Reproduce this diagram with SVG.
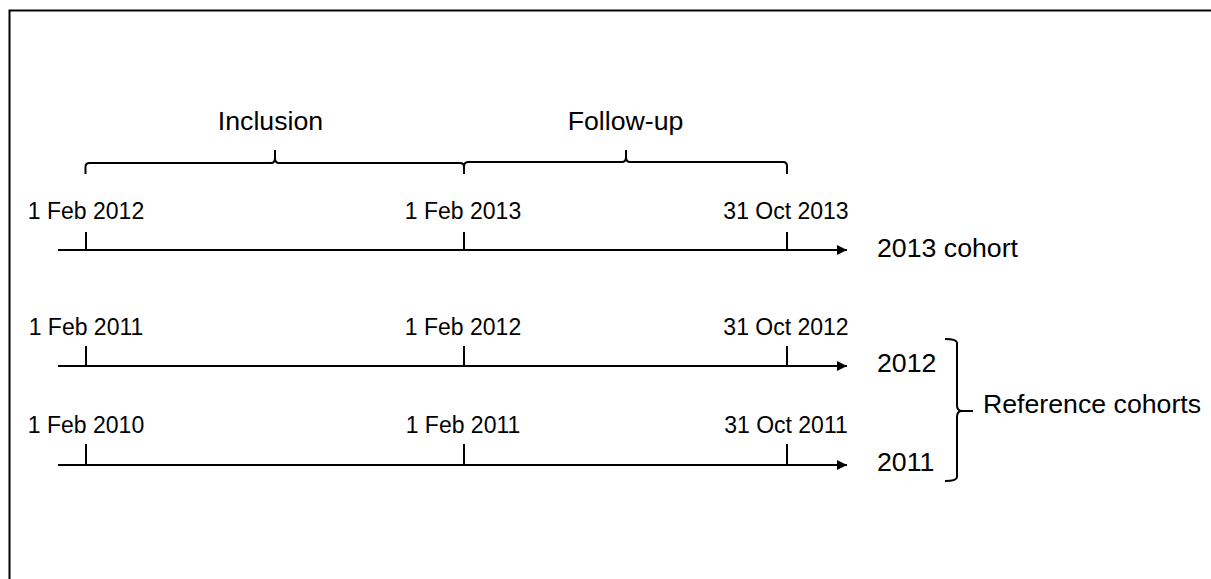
<svg xmlns="http://www.w3.org/2000/svg" width="1211" height="579" viewBox="0 0 1211 579">
<style>
.ln{stroke:#000;stroke-width:2;fill:none}
.br{stroke:#000;stroke-width:2;fill:none;stroke-linejoin:round}
.d{font-family:"Liberation Sans",Arial,sans-serif;font-size:23px;fill:#000;text-anchor:middle}
.t{font-family:"Liberation Sans",Arial,sans-serif;font-size:26.7px;fill:#000}
</style>
<defs>
<marker id="ah" viewBox="0 0 10 10" refX="10" refY="5" markerWidth="10" markerHeight="10" markerUnits="userSpaceOnUse" orient="auto">
<path d="M0,0 L10,5 L0,10 z" fill="#000"/>
</marker>
</defs>
<rect x="9.5" y="10.5" width="1300" height="700" fill="#fff" stroke="#000" stroke-width="2"/>
<g id="connectors">
<line class="ln" x1="58" y1="250" x2="847" y2="250" marker-end="url(#ah)"/>
<line class="ln" x1="58" y1="366" x2="847" y2="366" marker-end="url(#ah)"/>
<line class="ln" x1="58" y1="465" x2="847" y2="465" marker-end="url(#ah)"/>
</g>
<g id="row2013">
<path class="ln" d="M86,232V250M464,232V250M787,232V250"/>
<text class="d" x="86" y="218.5">1 Feb 2012</text>
<text class="d" x="463" y="218.5">1 Feb 2013</text>
<text class="d" x="786" y="218.5">31 Oct 2013</text>
<text class="t" x="877" y="257">2013 cohort</text>
</g>
<g id="row2012">
<path class="ln" d="M86,346V366M464,346V366M787,346V366"/>
<text class="d" x="86" y="335">1 Feb 2011</text>
<text class="d" x="463" y="335">1 Feb 2012</text>
<text class="d" x="786" y="335">31 Oct 2012</text>
<text class="t" x="877" y="372">2012</text>
</g>
<g id="row2011">
<path class="ln" d="M86,444V465M464,444V465M787,444V465"/>
<text class="d" x="86" y="433">1 Feb 2010</text>
<text class="d" x="463" y="433">1 Feb 2011</text>
<text class="d" x="786" y="433">31 Oct 2011</text>
<text class="t" x="877" y="470.5">2011</text>
</g>
<g id="inclusion">
<path class="br" d="M85.5,174V167Q85.5,163 89.5,163H271Q275,163 275,158V150M275,158Q275,163 279,163H460Q464,163 464,167V174"/>
<text class="t" x="270.5" y="129.5" text-anchor="middle">Inclusion</text>
</g>
<g id="followup">
<path class="br" d="M464,167Q464,162 468,162H622Q626,162 626,157V150M626,157Q626,162 630,162H783Q787,162 787,166V174"/>
<text class="t" x="625.5" y="129.5" text-anchor="middle">Follow-up</text>
</g>
<g id="reference">
<path class="br" d="M945,339Q957,339 957,343V405Q957,411 962,411H973M962,411Q957,411 957,417V477Q957,481 945,481"/>
<text class="t" x="983" y="413">Reference cohorts</text>
</g>
</svg>
